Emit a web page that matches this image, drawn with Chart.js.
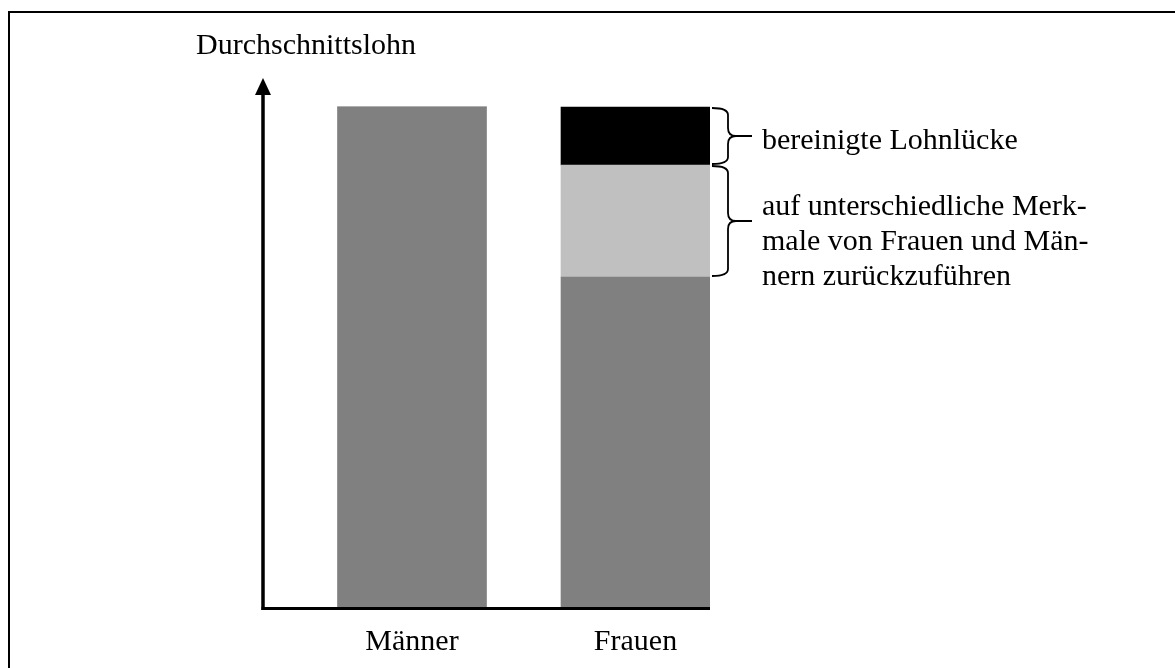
<!DOCTYPE html>
<html lang="de">
<head>
<meta charset="utf-8">
<title>Lohnlücke</title>
<script src="https://cdn.jsdelivr.net/npm/chart.js@4.4.1/dist/chart.umd.min.js"></script>
<style>
    html, body { margin: 0; padding: 0; background: #fff; overflow: hidden; }
    #wrap { position: relative; width: 1175px; height: 668px; }
    #frame { position: absolute; left: 8px; top: 11px; width: 1200px; height: 700px;
             border-left: 2px solid #000; border-top: 2px solid #000; }
    #lohnChart { position: absolute; left: 0; top: 0; }
</style>
</head>
<body>
<div id="wrap">
    <div id="frame"></div>
    <canvas id="lohnChart" width="1175" height="668"></canvas>
</div>
<script>
    // --- Daten ---
    const categories = ['Männer', 'Frauen'];
    const basisLohn = [100, 66];        // dunkelgrau
    const merkmaleAnteil = [0, 22.4];   // hellgrau
    const bereinigteLuecke = [0, 11.6]; // schwarz
    const axisTitle = 'Durchschnittslohn';
    const braceLabels = [
        ['bereinigte Lohnlücke'],
        ['auf unterschiedliche Merk-', 'male von Frauen und Män-', 'nern zurückzuführen']
    ];

    const serif = '"Liberation Serif", "Times New Roman", serif';
    const toPoints = arr => arr.map((v, i) => ({ x: categories[i], y: v }));

    // Leere Plätze links/zwischen/rechts der Balken
    const slots = ['', '', categories[0], '', '', categories[1], ''];

    // Achsen mit Pfeil, Klammern und Beschriftungen
    const decoPlugin = {
        id: 'deco',
        afterDatasetsDraw(chart) {
            const ctx = chart.ctx;
            const a = chart.chartArea;
            ctx.save();
            ctx.strokeStyle = '#000';
            ctx.fillStyle = '#000';

            // y-Achse
            ctx.lineWidth = 3.5;
            ctx.beginPath();
            ctx.moveTo(a.left, a.bottom + 3);
            ctx.lineTo(a.left, a.top + 12);
            ctx.stroke();
            ctx.beginPath();
            ctx.moveTo(a.left, a.top + 1);
            ctx.lineTo(a.left - 8, a.top + 18);
            ctx.lineTo(a.left + 8, a.top + 18);
            ctx.closePath();
            ctx.fill();

            // x-Achse
            ctx.lineWidth = 3;
            ctx.beginPath();
            ctx.moveTo(a.left - 1.5, a.bottom + 1.5);
            ctx.lineTo(a.right, a.bottom + 1.5);
            ctx.stroke();

            // Achsentitel
            ctx.font = '30px ' + serif;
            ctx.textAlign = 'left';
            ctx.textBaseline = 'alphabetic';
            ctx.fillText(axisTitle, a.left - 67, 54);

            // Klammern an den Frauen-Segmenten
            const baselines = [[149], [215, 250, 285]];
            [2, 1].forEach((dsIndex, k) => {
                const bar = chart.getDatasetMeta(dsIndex).data[1];
                if (!bar) return;
                const top = bar.y, bottom = bar.base;
                const x0 = bar.x + bar.width / 2 + 2;
                const x1 = x0 + 16;
                const x2 = x0 + 40;
                const mid = (top + bottom) / 2;
                const r = 8;
                ctx.lineWidth = 1.8;
                ctx.beginPath();
                ctx.moveTo(x0, top + 1);
                ctx.quadraticCurveTo(x1, top + 1, x1, top + r);
                ctx.lineTo(x1, mid - r);
                ctx.quadraticCurveTo(x1, mid, x1 + r, mid);
                ctx.lineTo(x2, mid);
                ctx.moveTo(x1 + r, mid);
                ctx.quadraticCurveTo(x1, mid, x1, mid + r);
                ctx.lineTo(x1, bottom - r);
                ctx.quadraticCurveTo(x1, bottom - 1, x0, bottom - 1);
                ctx.stroke();

                braceLabels[k].forEach((line, j) => {
                    ctx.fillText(line, x2 + 10, baselines[k][j]);
                });
            });
            ctx.restore();
        }
    };

    new Chart(document.getElementById('lohnChart'), {
        type: 'bar',
        data: {
            labels: slots,
            datasets: [
                { label: 'Basis', data: toPoints(basisLohn), backgroundColor: '#808080' },
                { label: 'Merkmale', data: toPoints(merkmaleAnteil), backgroundColor: '#c0c0c0' },
                { label: 'Bereinigt', data: toPoints(bereinigteLuecke), backgroundColor: '#000000' }
            ]
        },
        options: {
            responsive: false,
            animation: false,
            devicePixelRatio: 1,
            layout: { padding: { left: 263, right: 465, top: 77, bottom: 0 } },
            datasets: { bar: { barThickness: 149, borderWidth: 0 } },
            plugins: {
                legend: { display: false },
                tooltip: { enabled: false },
                title: { display: false }
            },
            scales: {
                x: {
                    stacked: true,
                    offset: false,
                    grid: { display: false, drawTicks: false },
                    border: { display: false },
                    ticks: {
                        color: '#000',
                        padding: 17,
                        maxRotation: 0,
                        autoSkip: false,
                        font: { family: serif, size: 30 }
                    },
                    afterFit(scale) { scale.height = 61; }
                },
                y: {
                    stacked: true,
                    display: false,
                    min: 0,
                    max: 106
                }
            }
        },
        plugins: [decoPlugin]
    });
</script>
</body>
</html>
